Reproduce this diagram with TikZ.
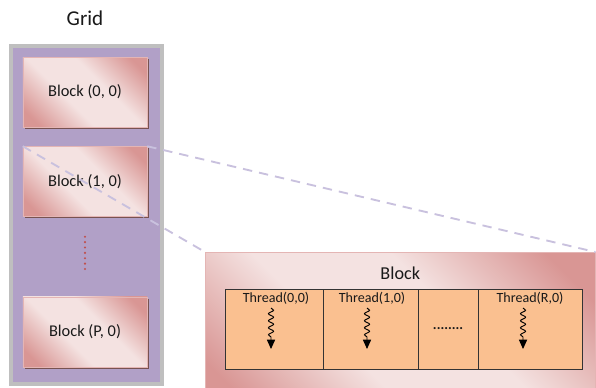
\documentclass[tikz,border=0pt]{standalone}
\usepackage{fontspec}
\setmainfont{Carlito}
\usetikzlibrary{arrows.meta,positioning,calc,shadows,decorations.pathmorphing}

\definecolor{gridfill}{HTML}{B1A0C7}
\definecolor{gridline}{HTML}{BFBFBF}
\definecolor{pinklight}{HTML}{F4E2E1}
\definecolor{pinkdark}{HTML}{D99694}
\definecolor{threadfill}{HTML}{FAC090}
\definecolor{dashline}{HTML}{C9C1DE}
\definecolor{dotred}{HTML}{C0504D}

\pgfdeclarehorizontalshading{blockshade}{100bp}{color(0bp)=(pinkdark); color(21bp)=(pinkdark); color(41bp)=(pinklight); color(59bp)=(pinklight); color(79bp)=(pinkdark); color(100bp)=(pinkdark)}

\begin{document}
\begin{tikzpicture}[
x=0.03cm,
y=-0.03cm,
every node/.style={
font=\fontsize{14}{16}\selectfont,
text=black!90
},
gridbox/.style={rectangle,draw=gridline,line width=3pt,fill=gridfill,
minimum width=4.53cm,minimum height=10.14cm},
blockbox/.style={rectangle,draw=pinkdark!70,shading=blockshade,shading angle=45,
minimum width=3.72cm,minimum height=2.1cm},
shadowed/.style={drop shadow={shadow xshift=1.5pt,shadow yshift=-1.5pt,fill=black!45!pinkdark,opacity=1}},
cell/.style={rectangle,draw=black!80,thick,fill=threadfill,outer sep=0pt,
minimum height=2.4cm,inner sep=0pt},
work/.style={-{Triangle[length=8pt,width=7pt]},line width=0.8pt,decorate,
decoration={snake,amplitude=2.2pt,segment length=6pt,post length=8pt}},
link/.style={dashline,line width=1.6pt,dash pattern=on 8pt off 6pt}
]
\useasboundingbox (0,0) rectangle (596,387);
\clip (0,0) rectangle (596,387);

% grid with its blocks
\node (gridlbl) at (85,18) {\fontsize{18}{20}\selectfont Grid};
\node[gridbox] (grid) at (86.5,215) {};
\node[blockbox,shadowed] (b00) at (85,92) {Block (0, 0)};
\node[blockbox,shadowed,below=0.57cm of b00] (b10) {Block (1, 0)};
\node[blockbox,shadowed,below=2.4cm of b10] (bP0) {Block (P, 0)};
\draw[dotred,line width=2pt,line cap=round,dash pattern=on 0pt off 4.6pt]
($(b10.south)+(0,20)$) -- ($(bP0.north)+(0,-27)$);

% one block opened up
\node[blockbox,anchor=north west,minimum width=11.7cm,minimum height=4.8cm] (blk) at (205,252) {};
\node (blklbl) at ($(blk.north)+(0,21)$) {\fontsize{15.5}{17}\selectfont Block};

\node[cell,minimum width=2.94cm,anchor=north west] (t0) at (225,289) {};
\node[cell,minimum width=2.85cm,right=0pt of t0] (t1) {};
\node[cell,minimum width=1.8cm,right=0pt of t1] (t2) {\fontsize{12}{14}\selectfont\textbf{........}};
\node[cell,minimum width=3.12cm,right=0pt of t2] (tR) {};

\node (l0) at ($(t0.north)+(2,9)$) {\fontsize{12}{14}\selectfont Thread(0,0)};
\node (l1) at ($(t1.north)+(1.5,9)$) {\fontsize{12}{14}\selectfont Thread(1,0)};
\node (lR) at ($(tR.north)+(0,9)$) {\fontsize{12}{14}\selectfont Thread(R,0)};

\foreach \c/\dx in {t0/-3,t1/-3.5,tR/-7}
\draw[work] ($(\c.north)+(\dx,19)$) -- ($(\c.north)+(\dx,60)$);

% zoom lines
\draw[link] (b10.north west) -- (blk.north west);
\draw[link] (b10.north east) -- (blk.north east);
\end{tikzpicture}
\end{document}
